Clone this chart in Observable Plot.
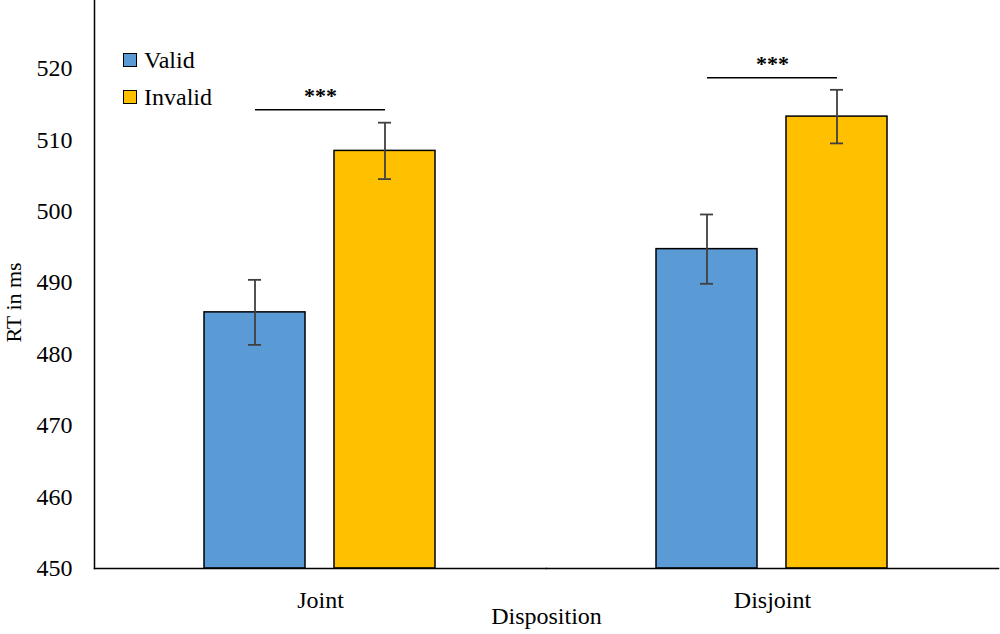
<!DOCTYPE html>
<html><head><meta charset="utf-8">
<script src="https://cdn.jsdelivr.net/npm/d3@7"></script>
<script src="https://cdn.jsdelivr.net/npm/@observablehq/plot@0.6"></script>
<style>
body{margin:0;background:#fff;}
#wrap{position:relative;width:1000px;height:634px;font-family:"Liberation Serif","Times New Roman",serif;}
.lg{position:absolute;left:123px;display:flex;align-items:center;height:24px;font-size:24px;color:#000;font-family:"Liberation Serif",serif;}
.sw{box-sizing:border-box;width:14px;height:14px;border:1.5px solid #000;margin-right:7px;}
</style></head><body><div id="wrap"></div>
<script>
// ---- data ----
const dispositions = ["Joint", "Disjoint"];
const conditions = ["Valid", "Invalid"];
const validMeans = [485.85, 494.7];
const invalidMeans = [508.45, 513.25];
const validErr = [4.55, 4.85];
const invalidErr = [3.95, 3.75];
const sigY = [514.2, 518.7];
const sigLabels = ["***", "***"];
const yTicks = [450, 460, 470, 480, 490, 500, 510, 520];
const yDomain = [450, 529.5];
const yLabel = "RT in ms";
const xLabel = "Disposition";
const colors = ["#5B9BD5", "#FFC000"];

const rows = [];
dispositions.forEach((d, i) => {
  rows.push({disposition: d, condition: "Valid", base: yDomain[0], mean: validMeans[i], lo: validMeans[i] - validErr[i], hi: validMeans[i] + validErr[i]});
  rows.push({disposition: d, condition: "Invalid", base: yDomain[0], mean: invalidMeans[i], lo: invalidMeans[i] - invalidErr[i], hi: invalidMeans[i] + invalidErr[i]});
});
const sig = dispositions.map((d, i) => ({disposition: d, y: sigY[i], label: sigLabels[i], from: conditions[0], to: conditions[1]}));

const chart = Plot.plot({
  width: 1000,
  height: 634,
  marginLeft: 94,
  marginRight: 2,
  marginTop: 0,
  marginBottom: 66,
  style: {fontFamily: '"Liberation Serif", "Times New Roman", serif', fontSize: "24px", color: "#000", background: "#fff"},
  fx: {domain: dispositions, padding: 0},
  x: {domain: conditions, paddingInner: 0.223, paddingOuter: 0.846, axis: null},
  y: {domain: yDomain},
  color: {domain: conditions, range: colors},
  marks: [
    Plot.axisY({ticks: yTicks, tickSize: 0, tickPadding: 22, fontSize: 24, label: null}),
    Plot.text([yLabel], {text: d => d, frameAnchor: "left", facetAnchor: "left", rotate: -90, lineAnchor: "top", dx: -89, dy: 58, fontSize: 22, fill: "#000"}),
    Plot.axisFx({anchor: "bottom", tickSize: 0, tickPadding: 22, fontSize: 24, label: xLabel, labelAnchor: "center", labelOffset: 55, labelArrow: "none"}),
    Plot.barY(rows, {fx: "disposition", x: "condition", y1: "base", y2: "mean", fill: "condition", stroke: "#000", strokeWidth: 1.5}),
    Plot.ruleX(rows, {fx: "disposition", x: "condition", y1: "lo", y2: "hi", stroke: "#404040", strokeWidth: 1.8}),
    Plot.tickY(rows, {fx: "disposition", x: "condition", y: "hi", stroke: "#404040", strokeWidth: 1.8, insetLeft: 44, insetRight: 44}),
    Plot.tickY(rows, {fx: "disposition", x: "condition", y: "lo", stroke: "#404040", strokeWidth: 1.8, insetLeft: 44, insetRight: 44}),
    Plot.link(sig, {fx: "disposition", x1: "from", x2: "to", y1: "y", y2: "y", stroke: "#000", strokeWidth: 1.5}),
    Plot.text(sig, {fx: "disposition", y: "y", text: "label", fontSize: 22, fontWeight: "bold", lineAnchor: "bottom", dy: -7, fill: "#000"}),
    Plot.frame({anchor: "left", facetAnchor: "left", stroke: "#000", strokeWidth: 1.5}),
    Plot.frame({anchor: "bottom", stroke: "#000", strokeWidth: 1.5})
  ]
});
const wrap = document.getElementById("wrap");
wrap.appendChild(chart);
[[0, 48], [1, 85]].forEach(([i, top]) => {
  const el = document.createElement("div");
  el.className = "lg";
  el.style.top = top + "px";
  const sw = document.createElement("span");
  sw.className = "sw";
  sw.style.background = colors[i];
  el.appendChild(sw);
  el.appendChild(document.createTextNode(conditions[i]));
  wrap.appendChild(el);
});
</script></body></html>
